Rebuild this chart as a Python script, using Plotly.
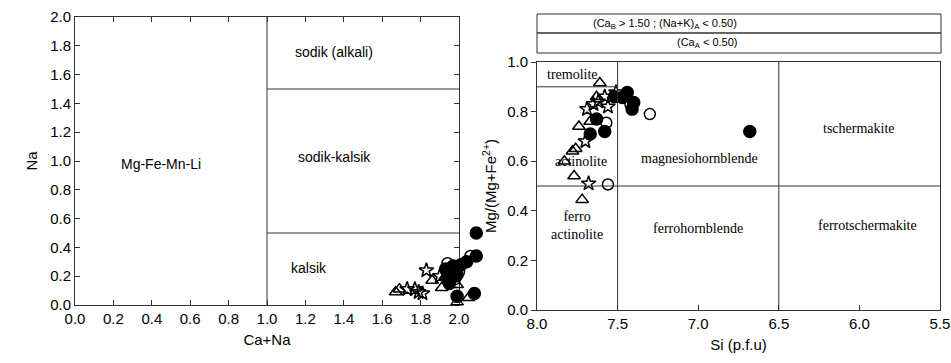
import plotly.graph_objects as go

# --- Na vs Ca+Na (amphibole group classification) ---
tri_canA = [1.67, 1.69, 1.86, 1.91, 1.99, 1.99, 2.05, 1.93, 1.96]
tri_naA = [0.09, 0.11, 0.17, 0.12, 0.14, 0.02, 0.05, 0.20, 0.18]
star_canA = [1.73, 1.77, 1.79, 1.81, 1.83, 1.90, 1.95]
star_naA = [0.11, 0.11, 0.09, 0.08, 0.24, 0.20, 0.22]
fill_canA = [2.09, 2.09, 1.93, 1.97, 2.01, 2.04, 1.94, 1.99, 2.08, 1.99, 1.95]
fill_naA = [0.50, 0.34, 0.25, 0.27, 0.28, 0.30, 0.19, 0.21, 0.08, 0.06, 0.15]
open_canA = [2.06, 1.94, 2.00, 1.98]
open_naA = [0.34, 0.29, 0.23, 0.18]

# --- Mg/(Mg+Fe2+) vs Si (calcic amphiboles) ---
tri_si = [7.61, 7.63, 7.67, 7.74, 7.76, 7.78, 7.83, 7.77, 7.72]
tri_mg = [0.915, 0.86, 0.76, 0.74, 0.65, 0.64, 0.60, 0.54, 0.445]
star_si = [7.51, 7.62, 7.56, 7.69, 7.70, 7.68, 7.58, 7.65]
star_mg = [0.877, 0.84, 0.82, 0.81, 0.68, 0.51, 0.86, 0.83]
fill_si = [7.44, 7.47, 7.40, 7.41, 6.68, 7.63, 7.67, 7.58, 7.52]
fill_mg = [0.877, 0.857, 0.837, 0.81, 0.72, 0.77, 0.71, 0.72, 0.86]
open_si = [7.30, 7.57, 7.56, 7.42]
open_mg = [0.79, 0.755, 0.506, 0.83]

W, H = 951, 363
SANS = "Liberation Sans, Arial, sans-serif"
SERIF = "Liberation Serif, Times New Roman, serif"
AX = "#333333"

# pixel frame of each diagram
L_X0, L_X1, L_Y0, L_Y1 = 75, 459, 17, 305
L_XMAX = 2.0
L_OVER = 482          # markers may spill past the right frame
R_X0, R_X1, R_Y0, R_Y1 = 537, 940, 62, 310


def px_x(p):
    return p / W


def px_y(p):
    return 1 - p / H


fig = go.Figure()

styles = [
    ("triangle-up-open", 11, "black"),
    ("star-open", 11, "black"),
    ("circle", 12, "black"),
    ("circle-open", 11, "black"),
]

left_sets = [(tri_canA, tri_naA), (star_canA, star_naA),
             (fill_canA, fill_naA), (open_canA, open_naA)]
right_sets = [(tri_si, tri_mg), (star_si, star_mg),
              (fill_si, fill_mg), (open_si, open_mg)]

for (xs, ys), (sym, sz, col) in zip(left_sets, styles):
    fig.add_trace(go.Scatter(
        x=xs, y=ys, mode="markers", xaxis="x3", yaxis="y", cliponaxis=False,
        marker=dict(symbol=sym, size=sz, color=col,
                    line=dict(color="black", width=1.5)),
        showlegend=False))

for (xs, ys), (sym, sz, col) in zip(right_sets, styles):
    fig.add_trace(go.Scatter(
        x=xs, y=ys, mode="markers", xaxis="x2", yaxis="y2", cliponaxis=False,
        marker=dict(symbol=sym, size=sz, color=col,
                    line=dict(color="black", width=1.5)),
        showlegend=False))

shapes = []
# field boundaries, left diagram
for x0, y0, x1, y1 in [(1.0, 0.0, 1.0, 2.0), (1.0, 1.5, 2.0, 1.5),
                       (1.0, 0.5, 2.0, 0.5)]:
    shapes.append(dict(type="line", xref="x", yref="y", x0=x0, y0=y0,
                       x1=x1, y1=y1, line=dict(color=AX, width=1)))
# field boundaries, right diagram
for x0, y0, x1, y1 in [(7.5, 0.0, 7.5, 1.0), (6.5, 0.0, 6.5, 1.0),
                       (8.0, 0.5, 5.5, 0.5), (8.0, 0.9, 7.5, 0.9)]:
    shapes.append(dict(type="line", xref="x2", yref="y2", x0=x0, y0=y0,
                       x1=x1, y1=y1, line=dict(color=AX, width=1)))
# condition header boxes
for y0, y1 in [(14, 33), (33, 53)]:
    shapes.append(dict(type="rect", xref="paper", yref="paper",
                       x0=px_x(537), x1=px_x(941), y0=px_y(y1), y1=px_y(y0),
                       line=dict(color=AX, width=1)))

ann = []
for txt, x, y in [("Mg-Fe-Mn-Li", 0.45, 0.98), ("sodik (alkali)", 1.35, 1.76),
                  ("sodik-kalsik", 1.35, 1.03), ("kalsik", 1.22, 0.26)]:
    ann.append(dict(text=txt, x=x, y=y, xref="x", yref="y", showarrow=False,
                    font=dict(family=SANS, size=14, color="black")))
for txt, x, y in [("tremolite", 7.78, 0.95), ("actinolite", 7.73, 0.60),
                  ("magnesiohornblende", 6.99, 0.61), ("tschermakite", 6.0, 0.73),
                  ("ferro<br>actinolite", 7.75, 0.34),
                  ("ferrohornblende", 7.0, 0.33),
                  ("ferrotschermakite", 5.95, 0.34)]:
    ann.append(dict(text=txt, x=x, y=y, xref="x2", yref="y2", showarrow=False,
                    font=dict(family=SERIF, size=14, color="black")))
ann.append(dict(text="(Ca<sub>B</sub> > 1.50 ; (Na+K)<sub>A</sub> < 0.50)",
                x=px_x(739), y=px_y(23.5), xref="paper", yref="paper",
                yanchor="middle", showarrow=False,
                font=dict(family=SANS, size=11, color="black")))
ann.append(dict(text="(Ca<sub>A</sub> < 0.50)",
                x=px_x(739), y=px_y(43), xref="paper", yref="paper",
                yanchor="middle", showarrow=False,
                font=dict(family=SANS, size=11, color="black")))

axis_common = dict(showgrid=False, zeroline=False, showline=True,
                   automargin=False,
                   linecolor=AX, linewidth=1, tickcolor=AX, ticklen=5,
                   tickfont=dict(family=SANS, size=15, color="black"))

px_per_unit = (L_X1 - L_X0) / L_XMAX

fig.update_layout(
    width=W, height=H, margin=dict(l=0, r=0, t=0, b=0, autoexpand=False),
    paper_bgcolor="white", plot_bgcolor="rgba(0,0,0,0)",
    xaxis=dict(domain=[px_x(L_X0), px_x(L_X1)], range=[0, L_XMAX], dtick=0.2,
               tickformat=".1f", ticks="inside", mirror="ticks",
               anchor="y",
               title=dict(text="Ca+Na", standoff=8,
                          font=dict(family=SANS, size=15, color="black")),
               **axis_common),
    # same scale as the left x axis, extended so edge markers are kept
    xaxis3=dict(domain=[px_x(L_X0), px_x(L_OVER)],
                range=[0, (L_OVER - L_X0) / px_per_unit],
                anchor="y", visible=False,
                showgrid=False, zeroline=False, automargin=False),
    yaxis=dict(domain=[px_y(L_Y1), px_y(L_Y0)], range=[0, 2.0], dtick=0.2,
               tickformat=".1f", ticks="inside", mirror="ticks",
               anchor="x",
               title=dict(text="Na", standoff=8,
                          font=dict(family=SANS, size=15, color="black")),
               **axis_common),
    xaxis2=dict(domain=[px_x(R_X0), px_x(R_X1)], range=[8.0, 5.5], dtick=0.5,
                tickformat=".1f", ticks="inside", mirror=True, anchor="y2",
                title=dict(text="Si (p.f.u)", standoff=8,
                           font=dict(family=SANS, size=15, color="black")),
                **axis_common),
    yaxis2=dict(domain=[px_y(R_Y1), px_y(R_Y0)], range=[0, 1.0], dtick=0.2,
                tickformat=".1f", ticks="outside", mirror=True, anchor="x2",
                title=dict(text="Mg/(Mg+Fe<sup>2+</sup>)", standoff=6,
                           font=dict(family=SANS, size=15, color="black")),
                **axis_common),
    shapes=shapes, annotations=ann,
)

fig.write_html("out.html")
